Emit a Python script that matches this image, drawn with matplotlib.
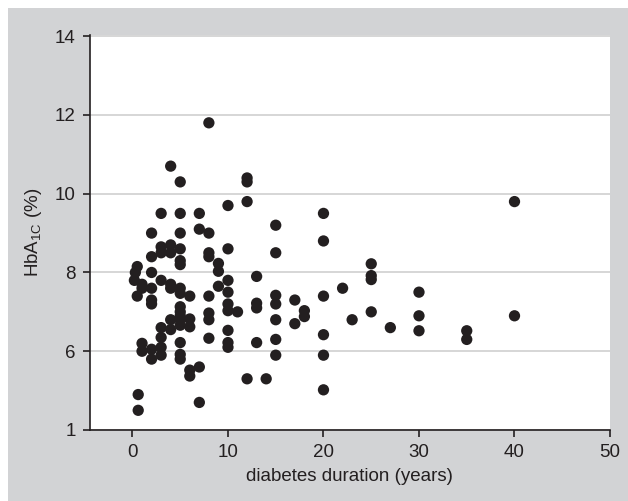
import matplotlib
matplotlib.use('Agg')
from matplotlib import pyplot as plt
from matplotlib.patches import Rectangle

plt.rcParams['font.family'] = ['Liberation Sans', 'DejaVu Sans']
plt.rcParams['mathtext.fontset'] = 'custom'
plt.rcParams['mathtext.rm'] = 'Liberation Sans'

# diabetes duration (years), HbA1c (%), column by column
duration = [0.5, 0.3, 0.2, 0.5, 0.6, 0.6,
            1, 1, 1, 1,
            2, 2, 2, 2, 2, 2, 2, 2,
            3, 3, 3, 3, 3, 3, 3, 3,
            4, 4, 4, 4, 4, 4, 4,
            5, 5, 5, 5, 5, 5, 5, 5, 5, 5, 5, 5, 5, 5, 5, 5,
            6, 6, 6, 6, 6,
            7, 7, 7, 7,
            8, 8, 8, 8, 8, 8, 8, 8,
            9, 9, 9,
            10, 10, 10, 10, 10, 10, 10, 10, 10,
            11,
            12, 12, 12, 12,
            13, 13, 13, 13,
            14,
            15, 15, 15, 15, 15, 15, 15,
            17, 17,
            18, 18,
            20, 20, 20, 20, 20, 20,
            22, 23,
            25, 25, 25, 25,
            27,
            30, 30, 30,
            35, 35,
            40, 40]
hba1c = [8.15, 8.0, 7.8, 7.4, 4.9, 4.5,
         7.7, 7.6, 6.2, 6.0,
         9.0, 8.4, 8.0, 7.6, 7.3, 7.2, 6.05, 5.8,
         9.5, 8.65, 8.5, 7.8, 6.6, 6.35, 6.1, 5.9,
         10.7, 8.7, 8.5, 7.7, 7.6, 6.8, 6.55,
         10.3, 9.5, 9.0, 8.6, 8.3, 8.2, 7.6, 7.47, 7.13, 7.0, 6.9, 6.8, 6.66, 6.22, 5.92, 5.8,
         7.4, 6.82, 6.62, 5.52, 5.37,
         9.5, 9.1, 5.6, 4.7,
         11.8, 9.0, 8.5, 8.4, 7.4, 6.97, 6.8, 6.33,
         8.23, 8.03, 7.65,
         9.7, 8.6, 7.8, 7.5, 7.2, 7.03, 6.53, 6.22, 6.1,
         7.0,
         10.4, 10.3, 9.8, 5.3,
         7.9, 7.22, 7.1, 6.22,
         5.3,
         9.2, 8.5, 7.42, 7.2, 6.8, 6.3, 5.9,
         7.3, 6.7,
         7.03, 6.88,
         9.5, 8.8, 7.4, 6.42, 5.9, 5.02,
         7.6, 6.8,
         8.22, 7.92, 7.82, 7.0,
         6.6,
         7.5, 6.9, 6.52,
         6.52, 6.3,
         9.8, 6.9]

xticks = [0, 10, 20, 30, 40, 50]
yticks = [4, 6, 8, 10, 12, 14]
ytick_labels = ['1', '6', '8', '10', '12', '14']

fig = plt.figure(figsize=(6.28, 5.01), dpi=100)
fig.patch.set_facecolor('white')
# grey panel behind the plot
fig.patches.append(Rectangle((8 / 628, 0), 1, 1 - 8 / 501, transform=fig.transFigure,
                             facecolor='#d2d3d5', edgecolor='none', zorder=-10))

ax = fig.add_axes([89.5 / 628, 71 / 501, (610 - 89.5) / 628, (466 - 71) / 501])
ax.set_zorder(1)
ax.set_facecolor('white')
ax.scatter(duration, hba1c, s=66, color='#231f20', edgecolors='none', zorder=3)

ax.set_xlim(-4.5, 50)
ax.set_ylim(4, 14.03)
ax.set_xticks(xticks)
ax.set_yticks(yticks)
ax.set_yticklabels(ytick_labels)
ax.yaxis.grid(True, color='#d6d6d6', linewidth=1.4)
ax.set_axisbelow(True)

for side in ['top', 'right']:
    ax.spines[side].set_visible(False)
for side in ['left', 'bottom']:
    ax.spines[side].set_color('#231f20')
    ax.spines[side].set_linewidth(1.2)
ax.tick_params(direction='out', length=5, width=1.2, colors='#231f20',
               labelsize=13.5, labelcolor='#231f20', pad=5)

ax.set_xlabel('diabetes duration (years)', fontsize=13.5, color='#231f20', labelpad=5)
ax.set_ylabel(r'HbA$_\mathregular{1C}$ (%)', fontsize=13.5, color='#231f20', labelpad=8)

fig.savefig('out.png', dpi=100, facecolor=fig.get_facecolor())
